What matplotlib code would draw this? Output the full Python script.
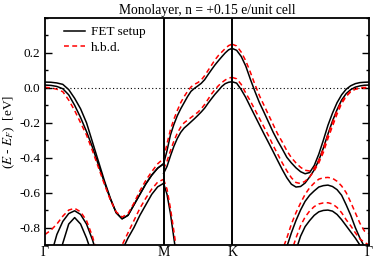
import numpy as np
import matplotlib
matplotlib.use("Agg")
import matplotlib.pyplot as plt

plt.rcParams.update({
    "font.family": "serif",
    "font.serif": ["Liberation Serif", "DejaVu Serif"],
    "mathtext.fontset": "stix",
    "font.size": 9.5,
    "axes.unicode_minus": False,
})

# path lengths of the hexagonal zone: Gamma-M, M-K, K-Gamma
SEG = [1.0, 1.0 / np.sqrt(3), 2.0 / np.sqrt(3)]
K_M = SEG[0]
K_K = SEG[0] + SEG[1]
K_G2 = K_K + SEG[2]

hs_pos = [0.0, K_M, K_K, K_G2]
hs_labels = ["Γ", "M", "K", "Γ"]

nan = np.nan

# ---- Gamma -> M (21 samples) ----
gm_fet_a = [0.033, 0.032, 0.028, 0.02, -0.01, -0.06, -0.12, -0.2, -0.31, -0.42, -0.53,
            -0.63, -0.715, -0.75, -0.73, -0.67, -0.61, -0.55, -0.5, -0.46, -0.435]
gm_fet_b = [0.016, 0.014, 0.008, -0.005, -0.04, -0.1, -0.17, -0.25, -0.34, -0.44, -0.54,
            -0.635, -0.715, -0.75, -0.73, -0.67, -0.61, -0.55, -0.5, -0.46, -0.435]
gm_hbd_a = [0.003, 0.0, -0.008, -0.022, -0.07, -0.13, -0.2, -0.27, -0.36, -0.455, -0.55,
            -0.64, -0.71, -0.74, -0.72, -0.66, -0.59, -0.53, -0.48, -0.435, -0.405]
gm_fet_hump1 = [-1.05, -0.96, -0.84, -0.765, -0.72, -0.704, -0.725, -0.78, -0.87, -0.98, -1.1,
                nan, nan, nan, nan, nan, nan, nan, nan, nan, nan]
gm_fet_hump2 = [nan, nan, -1.02, -0.89, -0.78, -0.743, -0.78, -0.86, -0.96, -1.08, nan,
                nan, nan, nan, nan, nan, nan, nan, nan, nan, nan]
gm_hbd_hump = [-0.84, -0.815, -0.78, -0.735, -0.7, -0.69, -0.71, -0.76, -0.85, -0.97, -1.1,
               nan, nan, nan, nan, nan, nan, nan, nan, nan, nan]
gm_fet_low = [nan, nan, nan, nan, nan, nan, nan, nan, nan, nan, nan,
              nan, -1.0, -0.93, -0.86, -0.8, -0.73, -0.67, -0.61, -0.567, -0.547]
gm_hbd_low = [nan, nan, nan, nan, nan, nan, nan, nan, nan, nan, nan,
              nan, -0.98, -0.9, -0.83, -0.76, -0.69, -0.632, -0.58, -0.54, -0.524]

# ---- M -> K (21 samples) ----
mk_fet_up = [-0.435, -0.36, -0.27, -0.21, -0.16, -0.12, -0.085, -0.05, -0.02, -0.003, 0.011,
             0.026, 0.047, 0.076, 0.104, 0.131, 0.155, 0.178, 0.2, 0.218, 0.226]
mk_hbd_up = [-0.405, -0.32, -0.24, -0.18, -0.13, -0.085, -0.05, -0.02, 0.005, 0.02, 0.03,
             0.045, 0.07, 0.1, 0.13, 0.16, 0.185, 0.205, 0.225, 0.242, 0.25]
mk_fet_lo = [-0.49, -0.45, -0.39, -0.335, -0.29, -0.255, -0.23, -0.213, -0.195, -0.177, -0.158,
             -0.138, -0.116, -0.088, -0.062, -0.037, -0.015, 0.008, 0.024, 0.032, 0.035]
mk_hbd_lo = [-0.465, -0.42, -0.36, -0.305, -0.26, -0.225, -0.2, -0.185, -0.17, -0.155, -0.14,
             -0.12, -0.095, -0.065, -0.035, -0.01, 0.012, 0.03, 0.045, 0.056, 0.06]
mk_fet_down = [-0.547, -0.61, -0.72, -0.86, -1.0, nan, nan, nan, nan, nan, nan,
               nan, nan, nan, nan, nan, nan, nan, nan, nan, nan]
mk_hbd_down = [-0.524, -0.58, -0.69, -0.82, -0.96, nan, nan, nan, nan, nan, nan,
               nan, nan, nan, nan, nan, nan, nan, nan, nan, nan]

# ---- K -> Gamma (31 samples) ----
kg_fet_up = [0.226, 0.215, 0.18, 0.125, 0.05, -0.02, -0.085, -0.14, -0.197, -0.254, -0.304,
             -0.35, -0.398, -0.43, -0.458, -0.48, -0.492, -0.485, -0.445, -0.38, -0.3,
             -0.215, -0.145, -0.085, -0.04, -0.008, 0.012, 0.024, 0.03, 0.032, 0.033]
kg_hbd_up = [0.25, 0.24, 0.205, 0.155, 0.09, 0.02, -0.045, -0.1, -0.155, -0.21, -0.265,
             -0.31, -0.36, -0.4, -0.43, -0.455, -0.472, -0.476, -0.46, -0.415, -0.35,
             -0.27, -0.2, -0.13, -0.08, -0.045, -0.018, -0.005, 0.0, 0.002, 0.003]
kg_fet_lo = [0.035, 0.027, -0.01, -0.055, -0.108, -0.16, -0.212, -0.264, -0.314, -0.365, -0.417,
             -0.468, -0.515, -0.552, -0.568, -0.565, -0.545, -0.51, -0.47, -0.415, -0.345,
             -0.265, -0.19, -0.125, -0.07, -0.033, -0.01, 0.004, 0.011, 0.015, 0.016]
kg_hbd_lo = [0.06, 0.052, 0.02, -0.03, -0.075, -0.125, -0.175, -0.225, -0.275, -0.33, -0.38,
             -0.43, -0.475, -0.515, -0.542, -0.548, -0.535, -0.51, -0.475, -0.43, -0.37,
             -0.29, -0.22, -0.15, -0.09, -0.05, -0.022, -0.008, -0.003, -0.002, -0.002]
kg_fet_hump1 = [nan, nan, nan, nan, nan, nan, nan, nan, nan, nan, nan,
                -1.0, -0.91, -0.83, -0.76, -0.7, -0.65, -0.615, -0.59, -0.568, -0.56,
                -0.557, -0.565, -0.583, -0.615, -0.67, -0.73, -0.8, -0.86, -0.91, -0.95]
kg_hbd_hump1 = [nan, nan, nan, nan, nan, nan, nan, nan, nan, nan, -1.0,
                -0.93, -0.86, -0.78, -0.715, -0.66, -0.61, -0.572, -0.545, -0.523, -0.515,
                -0.513, -0.518, -0.535, -0.562, -0.6, -0.655, -0.715, -0.775, -0.82, -0.835]
kg_fet_hump2 = [nan, nan, nan, nan, nan, nan, nan, nan, nan, nan, nan,
                nan, nan, -1.02, -0.93, -0.85, -0.795, -0.76, -0.73, -0.71, -0.702,
                -0.7, -0.706, -0.725, -0.755, -0.79, -0.825, -0.86, -0.9, -0.94, -0.97]
kg_hbd_hump2 = [nan, nan, nan, nan, nan, nan, nan, nan, nan, nan, nan,
                nan, -1.03, -0.94, -0.86, -0.79, -0.74, -0.705, -0.68, -0.665, -0.659,
                -0.658, -0.665, -0.685, -0.715, -0.755, -0.79, -0.83, -0.865, -0.885, -0.9]

k_gm = np.linspace(0.0, K_M, len(gm_fet_a))
k_mk = np.linspace(K_M, K_K, len(mk_fet_up))
k_kg = np.linspace(K_K, K_G2, len(kg_fet_up))

fet = [(k_gm, gm_fet_a), (k_gm, gm_fet_b), (k_gm, gm_fet_hump1), (k_gm, gm_fet_hump2),
       (k_gm, gm_fet_low), (k_mk, mk_fet_up), (k_mk, mk_fet_lo), (k_mk, mk_fet_down),
       (k_kg, kg_fet_up), (k_kg, kg_fet_lo), (k_kg, kg_fet_hump1), (k_kg, kg_fet_hump2)]
hbd = [(k_gm, gm_hbd_a), (k_gm, gm_hbd_hump), (k_gm, gm_hbd_low),
       (k_mk, mk_hbd_up), (k_mk, mk_hbd_lo), (k_mk, mk_hbd_down),
       (k_kg, kg_hbd_up), (k_kg, kg_hbd_lo), (k_kg, kg_hbd_hump1), (k_kg, kg_hbd_hump2)]

fig = plt.figure(figsize=(3.74, 2.60), dpi=100)
ax = fig.add_axes([45 / 374, 15 / 260, 324 / 374, 227 / 260])

for i, (k, e) in enumerate(fet):
    ax.plot(k, e, color="black", lw=1.1, label="FET setup" if i == 0 else None)
for i, (k, e) in enumerate(hbd):
    ax.plot(k, e, color="red", lw=1.1, ls=(0, (3.2, 2.2)), label="h.b.d." if i == 0 else None)

ax.axhline(0.0, color="black", lw=0.8, ls=(0, (1, 2.2)))
for x in hs_pos[1:-1]:
    ax.axvline(x, color="black", lw=1.4)

ax.set_xlim(0, K_G2)
ax.set_ylim(-0.9, 0.4)
ax.set_xticks(hs_pos, hs_labels)
ax.tick_params(axis="x", length=0, pad=1, labelsize=10)
ax.set_yticks([-0.8, -0.6, -0.4, -0.2, 0.0, 0.2])
ax.set_yticks(np.arange(-0.9, 0.41, 0.1), minor=True)
ax.tick_params(axis="y", which="both", direction="in", left=True, right=True, labelsize=9.5)
ax.tick_params(axis="y", which="major", length=5, width=1)
ax.tick_params(axis="y", which="minor", length=2.5, width=1)
for s in ax.spines.values():
    s.set_linewidth(1.3)

ax.set_ylabel(r"($E$ - $E_F$)  [eV]", fontsize=9.5)
ax.yaxis.set_label_coords(-0.085, 0.5)
ax.set_title("Monolayer, n = +0.15 e/unit cell", fontsize=9.8, pad=3)
ax.legend(loc="upper left", bbox_to_anchor=(0.058, 0.965), frameon=False, fontsize=9.5,
          handlelength=1.6, handletextpad=0.45, labelspacing=0.25, borderpad=0, borderaxespad=0)

fig.savefig("out.png", dpi=100)
